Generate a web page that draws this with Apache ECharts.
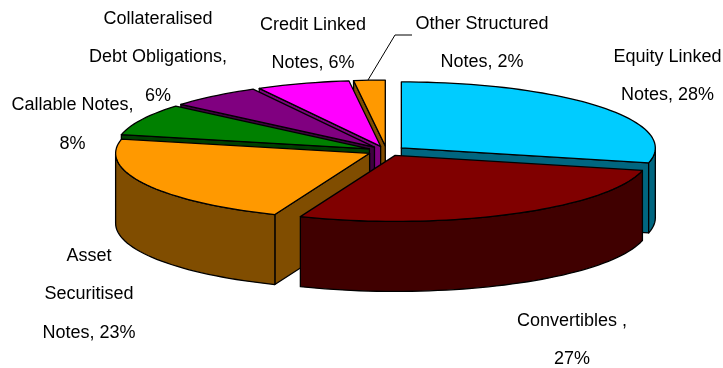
<!DOCTYPE html>
<html>
<head>
<meta charset="utf-8">
<style>html,body{margin:0;padding:0;background:#fff}#chart{width:723px;height:368px}</style>
<script src="https://cdn.jsdelivr.net/npm/echarts@6/dist/echarts.min.js"></script>
</head>
<body>
<div id="chart"></div>
<script>
// Share of structured notes by type, clockwise from twelve o'clock.
const categories = ['Equity Linked Notes', 'Convertibles', 'Asset Securitised Notes', 'Callable Notes',
  'Collateralised Debt Obligations', 'Credit Linked Notes', 'Other Structured Notes'];
const shares = [28, 27, 23, 8, 6, 6, 2];
const topColors = ['#00CCFF', '#800000', '#FF9900', '#008000', '#800080', '#FF00FF', '#FF9900'];
const wallColors = ['#006680', '#400000', '#804D00', '#004000', '#400040', '#800080', '#804D00'];
const labelLines = [
  ['Equity Linked', 'Notes, {v}%'],
  ['Convertibles ,', '{v}%'],
  ['Asset', 'Securitised', 'Notes, {v}%'],
  ['Callable Notes,', '{v}%'],
  ['Collateralised', 'Debt Obligations,', '{v}%'],
  ['Credit Linked', 'Notes, {v}%'],
  ['Other Structured', 'Notes, {v}%']
];
const labelCentres = [[667.5, 57], [572, 321], [89, 256], [72.5, 105.5], [158, 19], [313, 25], [482, 24]];
// Slices are painted far side first so nearer walls overlap them.
const paintOrder = [6, 5, 4, 3, 2, 0, 1];

const centre = [386.5, 151];
const radiusX = 254;
const radiusY = 66;
const depth = 70;
const explode = 0.075;
const lineGap = 38.5;

const rad = d => d * Math.PI / 180;
// The tilted view spreads the near side of the disc slightly.
const viewAngle = a => a + 2 * (1 - Math.cos(rad(a)));

let running = 0;
const slices = shares.map(v => {
  const from = running / 100 * 360;
  running += v;
  const to = running / 100 * 360;
  return { from: viewAngle(from), to: viewAngle(to), mid: viewAngle((from + to) / 2) };
});

function renderSlice(params, api) {
  const i = api.value(0);
  const s = slices[i];
  const apex = [
    centre[0] + explode * radiusX * Math.sin(rad(s.mid)),
    centre[1] - explode * radiusY * Math.cos(rad(s.mid))
  ];
  const rim = a => [apex[0] + radiusX * Math.sin(rad(a)), apex[1] - radiusY * Math.cos(rad(a))];
  const drop = p => [p[0], p[1] + depth];
  const arc = (a, b) => {
    const pts = [];
    const n = Math.max(2, Math.ceil((b - a) / 2));
    for (let k = 0; k <= n; k++) pts.push(rim(a + (b - a) * k / n));
    return pts;
  };
  const line = { stroke: '#000', lineWidth: 1.3, lineJoin: 'round' };
  const face = (points, fill) => ({
    type: 'polygon', shape: { points }, style: Object.assign({ fill }, line)
  });
  const children = [];
  const wall = wallColors[i];
  // Radial faces turned towards the viewer.
  if (Math.sin(rad(s.from)) < -1e-6) {
    const e = rim(s.from);
    children.push(face([apex, e, drop(e), drop(apex)], wall));
  }
  if (Math.sin(rad(s.to)) > 1e-6) {
    const e = rim(s.to);
    children.push(face([apex, e, drop(e), drop(apex)], wall));
  }
  // Outer wall: only the part of the rim on the near half of the ellipse.
  const a0 = Math.max(s.from, 90);
  const a1 = Math.min(s.to, 270);
  if (a1 > a0) {
    const upper = arc(a0, a1);
    children.push(face(upper.concat(upper.map(drop).reverse()), wall));
  }
  children.push(face([apex].concat(arc(s.from, s.to)), topColors[i]));
  return { type: 'group', children };
}

const labelGraphics = [];
labelLines.forEach((lines, i) => {
  lines.forEach((text, k) => {
    labelGraphics.push({
      type: 'text',
      x: labelCentres[i][0],
      y: labelCentres[i][1] + k * lineGap,
      style: {
        text: text.replace('{v}', shares[i]),
        fill: '#000',
        font: '18px "Liberation Sans", Arial, sans-serif',
        align: 'center',
        verticalAlign: 'middle'
      }
    });
  });
});
// Leader from the smallest slice up to its label.
labelGraphics.push({
  type: 'polyline',
  shape: { points: [[368, 80], [395, 35], [412, 35]] },
  style: { stroke: '#000', lineWidth: 1, fill: null }
});

const chart = echarts.init(document.getElementById('chart'), null, { renderer: 'canvas' });
chart.setOption({
  animation: false,
  backgroundColor: '#fff',
  graphic: labelGraphics,
  series: [{
    type: 'custom',
    coordinateSystem: 'none',
    renderItem: renderSlice,
    silent: true,
    data: paintOrder.map(i => ({ name: categories[i], value: [i, shares[i]] }))
  }]
});
</script>
</body>
</html>
